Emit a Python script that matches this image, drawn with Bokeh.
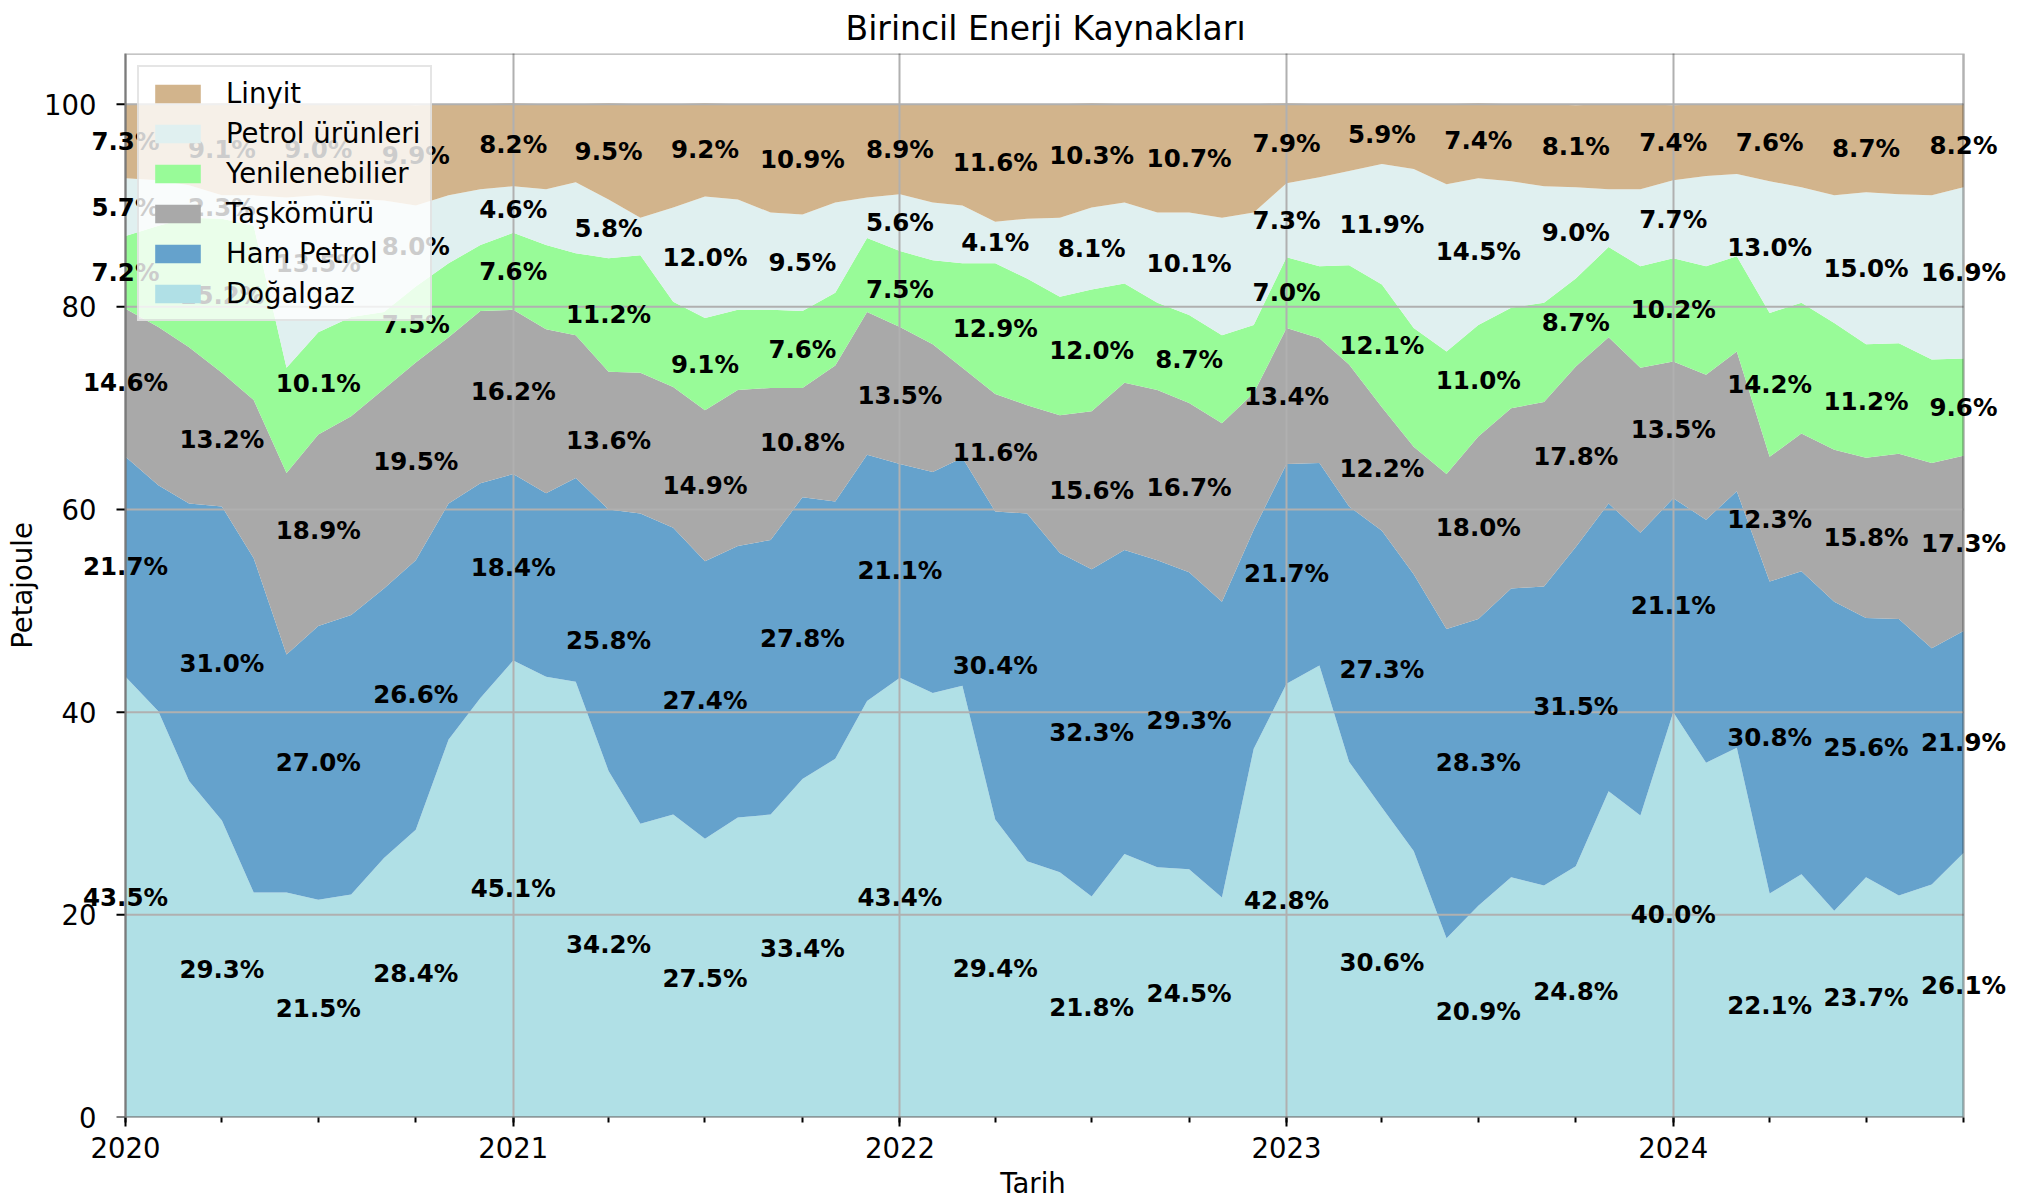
import numpy as np
import pandas as pd
from bokeh.plotting import figure
from bokeh.models import (ColumnDataSource, LabelSet, FixedTicker, DatetimeTickFormatter,
                          Legend, LegendItem, Range1d, BoxAnnotation)
from bokeh.core.properties import value
from bokeh.embed import file_html
from bokeh.resources import INLINE

# ---------------- data (percent shares, monthly 2020-01 .. 2024-10) ----------------
months = pd.date_range("2020-01-01", "2024-10-01", freq="MS")

dogalgaz = [43.5, 40.1, 33.2, 29.3, 22.2, 22.2, 21.5, 22.0, 25.6, 28.4, 37.3, 41.4,
            45.1, 43.5, 43.0, 34.2, 29.0, 29.9, 27.5, 29.6, 29.9, 33.4, 35.4, 41.1,
            43.4, 41.9, 42.6, 29.4, 25.3, 24.2, 21.8, 26.0, 24.7, 24.5, 21.7, 36.4,
            42.8, 44.6, 35.1, 30.6, 26.3, 17.7, 20.9, 23.7, 22.9, 24.8, 32.2, 29.8,
            40.0, 35.0, 36.5, 22.1, 24.0, 20.4, 23.7, 21.9, 23.0, 26.1]
ham_petrol = [21.7, 22.3, 27.4, 31.0, 33.0, 23.5, 27.0, 27.6, 26.6, 26.6, 23.3, 21.2,
              18.4, 18.1, 20.1, 25.8, 30.6, 28.3, 27.4, 26.8, 27.1, 27.8, 25.4, 24.3,
              21.1, 21.8, 22.5, 30.4, 34.3, 31.5, 32.3, 30.0, 30.3, 29.3, 29.2, 21.6,
              21.7, 20.0, 25.2, 27.3, 27.3, 30.5, 28.3, 28.5, 29.5, 31.5, 28.4, 27.9,
              21.1, 24.0, 25.3, 30.8, 29.9, 30.5, 25.6, 27.3, 23.3, 21.9]
taskomuru = [14.6, 15.6, 15.4, 13.2, 15.6, 17.9, 18.9, 19.6, 19.7, 19.5, 16.4, 17.0,
             16.2, 16.2, 14.1, 13.6, 13.9, 13.9, 14.9, 15.4, 15.0, 10.8, 13.4, 14.1,
             13.5, 12.6, 8.9, 11.6, 10.7, 13.6, 15.6, 16.5, 16.8, 16.7, 17.6, 13.5,
             13.4, 12.3, 14.0, 12.2, 12.6, 15.3, 18.0, 17.8, 18.2, 17.8, 16.4, 16.3,
             13.5, 14.3, 13.8, 12.3, 13.6, 15.0, 15.8, 16.3, 18.3, 17.3]
yenilenebilir = [7.2, 10.0, 12.8, 15.2, 17.2, 10.4, 10.1, 9.8, 7.6, 7.5, 7.3, 6.5,
                 7.6, 8.3, 8.1, 11.2, 11.6, 8.4, 9.1, 7.9, 7.7, 7.6, 7.2, 7.3,
                 7.5, 8.3, 10.3, 12.9, 12.5, 11.7, 12.0, 9.8, 8.6, 8.7, 8.7, 6.7,
                 7.0, 7.1, 9.8, 12.1, 11.7, 12.1, 11.0, 9.9, 9.8, 8.7, 8.9, 10.0,
                 10.2, 10.7, 9.4, 14.2, 12.9, 12.5, 11.2, 10.9, 10.2, 9.6]
petrol_urunleri = [5.7, 4.5, 3.2, 2.3, 3.0, 16.8, 13.5, 11.7, 11.0, 8.0, 6.7, 5.5,
                   4.6, 5.5, 7.0, 5.8, 3.7, 9.3, 12.0, 10.9, 9.6, 9.5, 8.9, 4.0,
                   5.6, 5.7, 5.7, 4.1, 5.9, 7.8, 8.1, 8.0, 8.9, 10.1, 11.6, 11.1,
                   7.3, 8.8, 9.3, 11.9, 15.7, 16.5, 14.5, 12.5, 11.5, 9.0, 5.7, 7.6,
                   7.7, 8.9, 8.1, 13.0, 11.4, 12.6, 15.0, 14.7, 16.2, 16.9]
linyit = [7.3, 7.5, 8.0, 9.1, 9.0, 9.2, 9.0, 9.3, 9.5, 9.9, 9.0, 8.4,
          8.2, 8.4, 7.7, 9.5, 11.2, 10.2, 9.2, 9.4, 10.7, 10.9, 9.7, 9.2,
          8.9, 9.7, 10.0, 11.6, 11.3, 11.2, 10.3, 9.7, 10.7, 10.7, 11.2, 10.7,
          7.9, 7.2, 6.6, 5.9, 6.4, 7.9, 7.4, 7.6, 8.1, 8.1, 8.4, 8.4,
          7.4, 7.1, 6.9, 7.6, 8.2, 9.0, 8.7, 8.9, 9.0, 8.2]

series_names = ["Doğalgaz", "Ham Petrol", "Taşkömürü", "Yenilenebilier", "Petrol ürünleri", "Linyit"]
colors = ["#b0e0e6", "#65a2cc", "#a9a9a9", "#98fb98", "#e0f0f0", "#d2b48c"]

year_ticks = ["2020-01-01", "2021-01-01", "2022-01-01", "2023-01-01", "2024-01-01"]
y_ticks = [0, 20, 40, 60, 80, 100]
y_max = 105

# ---------------- geometry ----------------
FIG_W, FIG_H = 2020, 1202
FRAME_L = 45            # left side panel (axis title)
PAD_L, PAD_R = 80, 57   # extra frame room so the edge labels are not clipped
DATA_PX = FIG_W - FRAME_L - PAD_L - PAD_R
FONT = "DejaVu Sans"
FS = "27.5px"

def ms(d):
    return pd.Timestamp(d).value // 10**6

data = np.array([dogalgaz, ham_petrol, taskomuru, yenilenebilir, petrol_urunleri, linyit])
n = len(months)
assert data.shape == (6, n)
top = np.cumsum(data, axis=0)
bottom = np.vstack([np.zeros(n), top[:-1]])

x0, x1 = ms(months[0]), ms(months[-1])
per_px = (x1 - x0) / DATA_PX

p = figure(width=FIG_W, height=FIG_H, x_axis_type="datetime",
           x_range=Range1d(x0 - PAD_L * per_px, x1 + PAD_R * per_px),
           y_range=Range1d(0, y_max),
           output_backend="svg", toolbar_location=None,
           min_border_left=FRAME_L, min_border_right=0,
           min_border_top=51, min_border_bottom=85)
p.outline_line_color = None
p.background_fill_color = "white"
p.border_fill_color = "white"

p.title.text = "Birincil Enerji Kaynakları"
p.title.align = "left"
p.title.offset = 800
p.title.text_font = FONT
p.title.text_font_size = "33px"
p.title.text_font_style = "normal"
p.title.text_color = "black"
p.title.text_line_height = 1.0
p.title.standoff = 12

# stacked areas
renderers = []
for i, name in enumerate(series_names):
    src = ColumnDataSource(dict(x=months, y1=bottom[i], y2=top[i]))
    r = p.varea(x="x", y1="y1", y2="y2", source=src, fill_color=colors[i])
    renderers.append(r)

# grid (above fills, as in matplotlib)
p.ygrid.visible = False
p.segment(x0=[x0] * len(y_ticks), x1=[x1] * len(y_ticks), y0=y_ticks, y1=y_ticks,
          line_color="#b0b0b0", line_width=2)
quarters = [ms(d) for d in pd.date_range("2020-01-01", "2024-10-01", freq="QS")]
xt = FixedTicker(ticks=[ms(d) for d in year_ticks], minor_ticks=quarters)
p.xgrid.ticker = xt
p.xgrid.grid_line_color = "#b0b0b0"
p.xgrid.grid_line_width = 2
p.xgrid.level = "guide"

# x axis
p.xaxis.ticker = xt
fmt = "%Y"
p.xaxis.formatter = DatetimeTickFormatter(years=fmt, months=fmt, days=fmt, hours=fmt,
                                          hourmin=fmt, minutes=fmt, minsec=fmt,
                                          seconds=fmt, milliseconds=fmt, microseconds=fmt)
p.xaxis.axis_line_color = None
p.xaxis.major_tick_line_color = "black"
p.xaxis.major_tick_line_width = 2
p.xaxis.major_tick_out = 9
p.xaxis.major_tick_in = 0
p.xaxis.minor_tick_line_color = "black"
p.xaxis.minor_tick_line_width = 2
p.xaxis.minor_tick_out = 5
p.xaxis.minor_tick_in = 0
p.xaxis.major_label_standoff = 10
p.xaxis.axis_label = "Tarih"
p.xaxis.axis_label_standoff = 6
p.xaxis.major_label_text_line_height = 1.0
p.xaxis.axis_label_text_line_height = 1.0

# y axis: labels pulled in to the left edge of the data area
p.yaxis.ticker = FixedTicker(ticks=y_ticks)
p.yaxis.axis_line_color = None
p.yaxis.major_tick_out = 0
p.yaxis.major_tick_in = 0
p.yaxis.minor_tick_line_color = None
p.yaxis.major_label_standoff = -51
p.yaxis.axis_label = "Petajoule"
p.yaxis.axis_label_standoff = 3

for ax in (p.xaxis, p.yaxis):
    ax.major_label_text_font = FONT
    ax.major_label_text_font_size = FS
    ax.major_label_text_color = "black"
    ax.axis_label_text_font = FONT
    ax.axis_label_text_font_size = FS
    ax.axis_label_text_font_style = "normal"
    ax.axis_label_text_color = "black"

# y tick marks at the data edge
p.segment(x0=[x0 - 9 * per_px] * len(y_ticks), x1=[x0] * len(y_ticks),
          y0=y_ticks, y1=y_ticks, line_color="black", line_width=2)

# spines around the data area
p.add_layout(BoxAnnotation(left=x0, right=x1, bottom=0, top=y_max,
                           fill_color=None, fill_alpha=0,
                           line_color="black", line_width=2.5))

# percentage labels every 3 months at band centres
idx = list(range(0, n, 3))
for i in range(6):
    lab = ColumnDataSource(dict(
        x=[ms(months[k]) for k in idx],
        y=[bottom[i][k] + data[i][k] / 2 for k in idx],
        t=["%.1f%%" % data[i][k] for k in idx]))
    p.add_layout(LabelSet(x="x", y="y", text="t", source=lab,
                          text_align="center", text_baseline="middle",
                          text_font=value(FONT), text_font_size=value("24.5px"),
                          text_font_style="bold", text_color="black"))

legend = Legend(items=[LegendItem(label=series_names[i], renderers=[renderers[i]])
                       for i in reversed(range(6))],
                location=(PAD_L + 12, 796), margin=0, padding=10, spacing=8,
                glyph_width=57, glyph_height=23, label_height=30, label_standoff=20,
                label_text_font=FONT, label_text_font_size=FS, label_text_color="black",
                background_fill_color="white", background_fill_alpha=0.8,
                border_line_color="#cccccc", border_line_width=2)
p.add_layout(legend)

open("out.html", "w").write(file_html(p, INLINE))
